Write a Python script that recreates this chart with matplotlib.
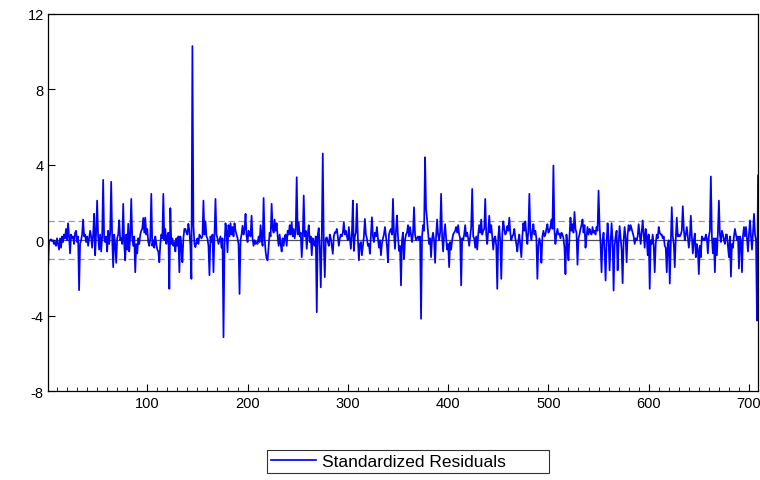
import numpy as np
import matplotlib
matplotlib.use("Agg")
import matplotlib.pyplot as plt
from matplotlib.ticker import MultipleLocator

plt.rcParams['font.family'] = ['Liberation Sans', 'DejaVu Sans']
plt.rcParams['axes.unicode_minus'] = False

resid = [
    -1.6, -0.1, 0.0, 0.05, -0.05, 0.0, -0.2, -0.1, -0.3, 0.1,
    -0.2, -0.5, 0.1, -0.4, 0.2, -0.1, 0.3, 0.1, 0.6, 0.0,
    0.9, 0.2, -0.7, 0.3, 0.1, 0.2, -0.2, 0.4, 0.5, -0.1,
    0.2, -2.65, -0.2, 0.0, 0.3, 1.1, 0.2, 0.3, -0.1, 0.2,
    -0.3, 0.1, 0.5, 0.2, -0.4, 0.3, 1.4, -0.8, 0.4, 2.1,
    0.2, -0.5, 0.3, -0.6, 0.2, 3.2, 0.1, -0.1, 0.2, -0.6,
    0.5, -0.2, 0.4, 3.1, 0.1, -1.43, 0.3, -0.2, -1.2, 0.1,
    0.3, 1.06, 0.0, 0.1, -0.2, 1.93, -0.2, -1.07, 0.3, -0.5,
    0.87, -0.6, 0.2, 2.19, 0.1, -0.3, 0.2, -1.7, -0.2, -0.7,
    0.1, -0.2, 0.3, 0.5, 0.6, 1.18, 0.4, 1.2, 0.3, 0.6,
    -0.1, -0.3, 0.1, 2.46, -0.3, 0.0, -0.4, 0.2, -0.2, -0.5,
    -0.6, -1.17, -0.2, 0.3, 0.1, 2.46, 0.0, 0.6, -0.2, 0.2,
    0.4, -2.58, 1.7, -0.2, 0.1, -0.3, -0.1, -0.6, 0.1, -0.3,
    0.2, -1.7, 0.2, -0.3, -1.17, 0.1, 0.6, 0.6, 0.4, 0.3,
    0.87, 0.5, -0.3, -2.05, 10.3, 0.8, -0.2, -0.37, -0.1, 0.1,
    -0.2, 0.3, 0.2, 0.1, 0.2, 2.1, 0.3, 1.0, 0.2, 0.1,
    -0.3, -1.86, 0.2, -0.1, 0.3, -1.7, 0.2, 2.19, 0.3, 0.1,
    -0.2, 0.0, 0.2, -0.4, 0.1, -5.15, -0.3, 0.9, 0.5, -0.64,
    0.8, 0.2, 0.9, 0.3, 0.7, 0.2, 0.9, 0.5, 0.3, 0.1,
    -0.2, -2.85, 0.0, 0.3, 0.77, 0.3, 0.6, 1.4, 0.2, -0.1,
    0.5, 0.3, 0.2, 1.3, 0.1, -0.3, 0.0, -0.2, -0.1, -0.2,
    0.2, -0.1, 0.8, 0.1, -0.3, 2.24, 0.1, -0.6, -1.0, -1.07,
    -0.3, 0.4, 0.2, 1.93, 0.6, 0.4, 1.1, 0.5, 0.9, 0.2,
    -0.3, 0.3, -0.2, -0.6, 0.1, -0.3, 0.2, 0.3, -0.3, 0.5,
    0.3, 0.8, 0.3, 0.95, 0.2, 0.6, 0.1, 0.5, 3.34, 0.3,
    0.95, 0.2, 0.4, -0.9, 0.1, 2.37, 0.2, 0.5, -0.46, 0.3,
    0.8, -0.1, 0.2, -0.8, 0.1, -0.2, -0.3, 0.2, -3.82, 0.3,
    0.64, -0.4, -2.5, 0.2, 4.6, -0.3, -1.96, 0.1, 0.15, -0.1,
    -0.3, 0.3, 0.1, -0.3, -0.72, 0.2, 0.42, 0.4, 0.6, 0.2,
    -0.3, 0.1, 0.3, 0.2, 0.4, 0.95, 0.3, 0.5, 0.2, 0.0,
    0.7, 0.1, -0.46, 0.3, 2.1, -0.57, 0.2, 0.4, 1.93, 0.1,
    -1.07, -0.2, -0.1, -0.8, -0.3, 0.2, 1.13, 0.3, 0.1, -0.3,
    -0.2, -0.72, 0.2, 1.22, 0.2, -0.1, 0.4, 0.2, 0.7, 0.1,
    -0.4, 0.0, -0.8, -0.2, 0.1, 0.3, 0.7, 0.2, -0.3, -1.17,
    0.3, 0.5, 0.6, 0.3, 2.19, 0.4, -0.46, 0.5, 1.31, 0.2,
    -0.57, -0.3, -2.4, 0.0, 0.4, -1.0, 0.0, 0.3, 0.4, 0.8,
    0.2, 0.7, 0.3, -0.1, 0.4, 1.75, 0.3, 0.0, 0.1, 0.2,
    0.0, 0.2, -4.17, 0.2, 0.8, 0.5, 4.4, 1.66, 1.1, 0.4,
    -0.2, 0.1, -0.9, 0.1, 0.4, 0.0, -1.2, 0.2, 1.1, 0.3,
    0.0, 0.4, 2.46, 0.2, -0.6, 0.3, 0.85, 0.1, -0.5, -0.2,
    -1.43, -0.1, -0.5, 0.0, 0.3, 0.4, 0.5, 0.7, 0.4, 0.8,
    0.3, 0.1, -2.4, 0.1, 0.0, 0.3, 0.8, 0.2, 0.4, 0.1,
    -0.3, 0.2, 0.7, 2.72, 0.2, 0.1, -0.4, 0.2, -0.5, 0.3,
    0.8, 0.4, 1.1, 0.3, 0.5, 0.6, 2.19, 0.3, -0.2, 0.5,
    1.3, 0.4, 0.8, 0.2, -0.5, 0.1, 0.2, -0.3, -2.58, 0.2,
    0.75, -0.1, -2.05, 0.3, 1.0, 0.6, 0.3, 0.4, 0.75, 0.5,
    1.2, 0.4, 0.0, 0.2, 0.3, 0.6, 0.1, -0.2, -0.6, 0.0,
    0.3, -0.3, -0.9, 0.2, 0.9, 0.5, 1.0, 0.3, -0.2, 0.5,
    2.46, 0.4, 0.0, 0.5, 0.85, 0.3, 0.5, 0.1, -2.05, -0.3,
    0.1, -0.2, -1.2, 0.2, 0.5, 0.2, 0.3, 0.6, 0.85, 0.4,
    0.5, 0.7, 1.1, 0.6, 3.96, 0.5, -0.2, 0.3, 0.6, 0.3,
    0.35, 0.1, 0.4, 0.3, 0.1, -0.4, -1.8, 0.3, -0.3, -1.07,
    0.2, 1.2, 0.5, 0.85, 0.4, 1.5, 0.6, 0.4, -1.3, 0.1,
    0.3, 0.6, 0.8, 1.1, 0.4, 0.8, -0.4, 0.2, 0.7, 0.3,
    0.6, 0.4, 0.3, 0.7, 0.4, 0.5, 0.3, 0.7, 0.5, 2.63,
    0.8, -0.2, -1.7, 0.0, 0.4, -0.5, -2.14, -0.2, 0.9, 0.1,
    -1.6, -0.2, 0.9, 0.0, -2.67, -0.3, 0.2, 0.5, -1.6, -0.2,
    0.75, 0.1, -0.5, -2.28, 0.0, 0.7, 0.1, -1.17, 0.3, 0.8,
    0.5, 0.8, 0.6, 0.4, 0.2, -0.2, 0.1, 0.0, 0.2, 0.85,
    0.3, -0.2, 0.4, 1.05, 0.3, -0.4, 0.6, 0.2, -0.8, 0.3,
    -2.58, 0.0, -0.2, 0.3, -0.3, -1.7, -0.2, 0.3, 0.1, 0.7,
    0.4, 0.3, 0.3, 0.1, 0.2, -0.3, -0.4, -1.7, -0.2, 0.0,
    -2.3, -0.3, 1.75, 0.2, -0.2, -1.43, 0.1, 1.2, 0.2, 0.3,
    0.2, 0.3, 0.5, 1.8, 0.6, 0.0, 0.3, 0.7, 0.2, -0.4,
    0.1, 1.3, 0.2, -0.7, 0.0, 0.35, -0.9, -0.2, -0.5, -1.8,
    -0.3, -0.9, 0.2, 0.0, 0.1, 0.0, 0.3, 0.1, -0.7, 0.2,
    0.5, 3.38, 0.2, -0.7, 0.1, -1.7, 0.1, -0.8, 0.4, 2.1,
    0.3, -0.1, 0.5, 0.3, 0.0, -0.2, 0.3, 0.3, -0.3, -0.9,
    0.2, -1.93, -0.2, -0.4, 0.2, 0.6, 0.3, 0.0, 0.2, -1.5,
    0.2, 0.0, -1.7, 0.2, 0.7, 0.2, 0.7, 0.1, -0.6, 0.3,
    1.05, 0.2, -0.5, 0.4, 1.4, 0.3, 0.0, -4.26, 3.43,
]
obs = np.arange(1, len(resid) + 1)

band = [-1, 1]
yticks = [-8, -4, 0, 4, 8, 12]
xticks = [100, 200, 300, 400, 500, 600, 700]

fig = plt.figure(figsize=(7.6, 4.81), dpi=100)
ax = fig.add_axes([48/760, 1 - 392/481, 710/760, 377/481])

for b in band:
    ax.axhline(b, color='#999999', lw=0.9, ls=(0, (5, 3)), zorder=1)
ax.axhline(0, color='#505050', lw=0.9, zorder=1)

line, = ax.plot(obs, resid, color='#0000ff', lw=1.25, zorder=2,
                label='Standardized Residuals')

ax.set_xlim(1, len(resid))
ax.set_ylim(-8, 12)
ax.set_yticks(yticks)
ax.set_xticks(xticks)
ax.xaxis.set_minor_locator(MultipleLocator(10))
ax.tick_params(axis='both', which='major', direction='in', length=5,
               labelsize=10.5, width=0.8)
ax.tick_params(axis='x', which='minor', direction='in', length=3, width=0.6)
ax.tick_params(axis='y', pad=3)
for s in ax.spines.values():
    s.set_linewidth(0.9)

leg = fig.legend(handles=[line], loc='center', mode='expand',
                 bbox_to_anchor=(267/760, 1 - 476/481, 282/760, 27/481),
                 fontsize=12.5, frameon=True, fancybox=False, edgecolor='black',
                 handlelength=2.6, handletextpad=0.3, borderpad=0.25,
                 borderaxespad=0.0)
leg.get_frame().set_linewidth(0.8)

fig.savefig('out.png', dpi=100)
